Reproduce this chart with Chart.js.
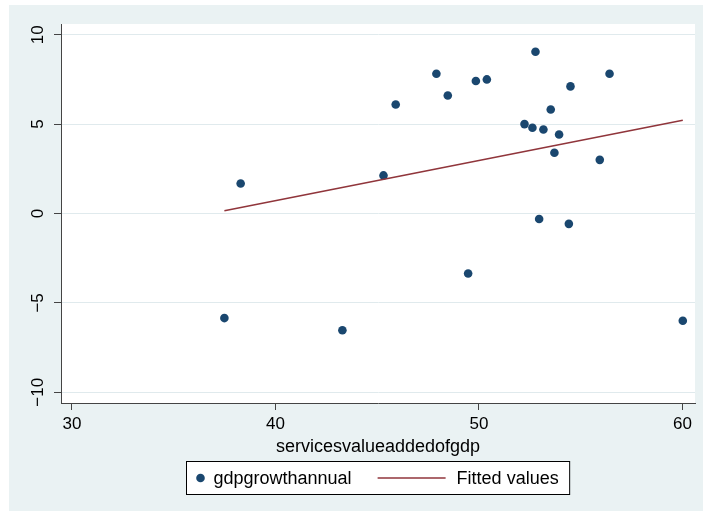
<!DOCTYPE html>
<html>
<head>
<meta charset="utf-8">
<script src="https://cdn.jsdelivr.net/npm/chart.js@4/dist/chart.umd.min.js"></script>
<style>
  html, body { margin: 0; padding: 0; background: #fff; }
  canvas { display: block; }
</style>
</head>
<body>
<canvas id="chart" width="703" height="512"></canvas>
<script>
// services value added (% of GDP) vs GDP growth (annual %)
const xVals = [37.49, 38.29, 43.29, 45.31, 45.91, 47.91, 48.47, 49.47, 49.85, 50.39, 52.24, 52.63,
               52.78, 52.96, 53.17, 53.53, 53.71, 53.94, 54.42, 54.50, 55.94, 56.42, 60.02];
const yVals = [-5.85, 1.68, -6.53, 2.13, 6.10, 7.82, 6.60, -3.36, 7.41, 7.50, 5.00, 4.80,
               9.05, -0.31, 4.70, 5.82, 3.40, 4.42, -0.58, 7.11, 3.00, 7.82, -6.00];

// fitted line end points
const fitX = [37.49, 60.02];
const fitY = [0.15, 5.22];

const xTicks = [30, 40, 50, 60];
const yTicks = [-10, -5, 0, 5, 10];

const xTitle = 'servicesvalueaddedofgdp';
const seriesLabel = 'gdpgrowthannual';
const fitLabel = 'Fitted values';

const FONT = '"Liberation Sans", Arial, sans-serif';
const BG = '#eaf2f3';
const NAVY = '#1a476f';
const MAROON = '#90353b';
const AXIS = '#444';

// background + white plot region
const bgPlugin = {
    id: 'bg',
    beforeDraw(chart) {
        const { ctx, chartArea: a } = chart;
        ctx.save();
        ctx.fillStyle = '#fff';
        ctx.fillRect(0, 0, chart.width, chart.height);
        ctx.fillStyle = BG;
        ctx.fillRect(9, 5, chart.width - 9, chart.height - 6);
        ctx.fillStyle = '#fff';
        ctx.fillRect(a.left, a.top, a.right - a.left, a.bottom - a.top);
        ctx.restore();
    }
};

// Stata-style boxed legend under the axis title
const legendPlugin = {
    id: 'boxLegend',
    afterDraw(chart) {
        const { ctx, chartArea: a } = chart;
        const ds = chart.data.datasets;
        ctx.save();
        ctx.font = '18px ' + FONT;
        const w1 = ctx.measureText(ds[0].label).width;
        const w2 = ctx.measureText(ds[1].label).width;
        const boxW = 27 + w1 + 26 + 68 + 11 + w2 + 11;
        const boxH = 33;
        const cx = (a.left + a.right) / 2;
        const left = Math.round(cx - boxW / 2) + 0.5;
        const top = a.bottom + 58.5;
        const midY = top + boxH / 2;

        ctx.fillStyle = '#fff';
        ctx.fillRect(left, top, boxW, boxH);
        ctx.strokeStyle = '#000';
        ctx.lineWidth = 1;
        ctx.strokeRect(left, top, boxW, boxH);

        // marker
        ctx.fillStyle = ds[0].backgroundColor;
        ctx.beginPath();
        ctx.arc(left + 14, midY, 4.3, 0, Math.PI * 2);
        ctx.fill();

        ctx.fillStyle = '#000';
        ctx.textBaseline = 'middle';
        ctx.textAlign = 'left';
        let x = left + 27;
        ctx.fillText(ds[0].label, x, midY + 1);
        x += w1 + 26;

        // line sample
        ctx.strokeStyle = ds[1].borderColor;
        ctx.lineWidth = ds[1].borderWidth;
        ctx.beginPath();
        ctx.moveTo(x, midY);
        ctx.lineTo(x + 68, midY);
        ctx.stroke();
        x += 68 + 11;

        ctx.fillText(ds[1].label, x, midY + 1);
        ctx.restore();
    }
};

const minus = v => String(v).replace('-', '\u2212');

new Chart(document.getElementById('chart'), {
    type: 'scatter',
    data: {
        datasets: [
            {
                label: seriesLabel,
                data: xVals.map((x, i) => ({ x: x, y: yVals[i] })),
                backgroundColor: NAVY,
                borderColor: NAVY,
                borderWidth: 0,
                pointRadius: 4.3,
                order: 2
            },
            {
                type: 'line',
                label: fitLabel,
                data: fitX.map((x, i) => ({ x: x, y: fitY[i] })),
                borderColor: MAROON,
                backgroundColor: MAROON,
                borderWidth: 1.6,
                pointRadius: 0,
                fill: false,
                tension: 0,
                order: 1
            }
        ]
    },
    options: {
        responsive: false,
        animation: false,
        devicePixelRatio: 1,
        layout: { padding: { left: 9, top: 24, right: 8, bottom: 53 } },
        plugins: {
            legend: { display: false },
            tooltip: { enabled: false }
        },
        scales: {
            x: {
                type: 'linear',
                position: 'bottom',
                min: 29.46,
                max: 60.62,
                afterBuildTicks: s => { s.ticks = xTicks.map(v => ({ value: v })); },
                afterFit: s => { s.height = 56; },
                grid: { drawOnChartArea: false, tickLength: 7, tickColor: AXIS, tickWidth: 1 },
                border: { color: AXIS, width: 1 },
                ticks: {
                    autoSkip: false,
                    maxRotation: 0,
                    padding: 4,
                    color: '#000',
                    font: { family: FONT, size: 17 },
                    callback: minus
                },
                title: {
                    display: true,
                    text: xTitle,
                    color: '#000',
                    font: { family: FONT, size: 18 },
                    padding: { top: 0, bottom: 1 }
                }
            },
            y: {
                type: 'linear',
                position: 'left',
                min: -10.6,
                max: 10.6,
                afterBuildTicks: s => { s.ticks = yTicks.map(v => ({ value: v })); },
                afterFit: s => { s.width = 52; },
                grid: { color: '#e0eaed', lineWidth: 1, tickLength: 7, tickColor: AXIS, tickWidth: 1 },
                border: { color: AXIS, width: 1 },
                ticks: {
                    autoSkip: false,
                    minRotation: 90,
                    maxRotation: 90,
                    crossAlign: 'center',
                    padding: 1,
                    color: '#000',
                    font: { family: FONT, size: 17 },
                    callback: minus
                }
            }
        }
    },
    plugins: [bgPlugin, legendPlugin]
});
</script>
</body>
</html>
